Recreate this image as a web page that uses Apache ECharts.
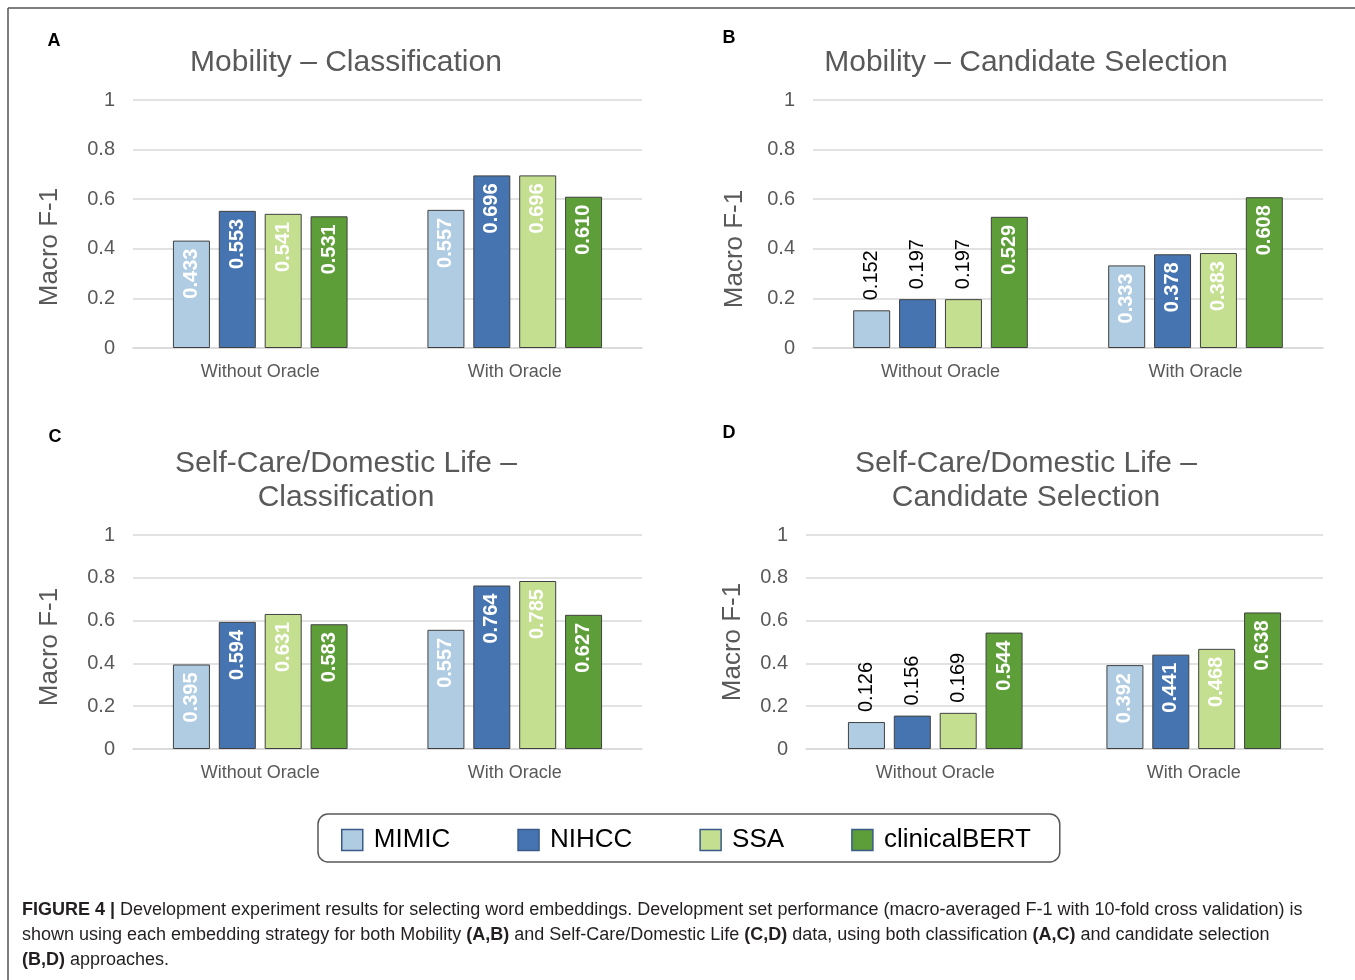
<!DOCTYPE html>
<html>
<head>
<meta charset="utf-8">
<script src="https://cdn.jsdelivr.net/npm/echarts@6/dist/echarts.min.js"></script>
<style>html,body{margin:0;padding:0;background:#fff}#c{width:1355px;height:980px}</style>
</head>
<body>
<div id="c"></div>
<script>
// ---- data ----
const categories = ['Without Oracle', 'With Oracle'];
const models = ['MIMIC', 'NIHCC', 'SSA', 'clinicalBERT'];
const panelTitles = [
  ['Mobility \u2013 Classification'],
  ['Mobility \u2013 Candidate Selection'],
  ['Self-Care/Domestic Life \u2013', 'Classification'],
  ['Self-Care/Domestic Life \u2013', 'Candidate Selection']
];
const panelLetters = ['A', 'B', 'C', 'D'];
const yAxisName = 'Macro F-1';
const yTicks = [0, 0.2, 0.4, 0.6, 0.8, 1];
// values[model] = [Without Oracle, With Oracle]
const mobilityClassification = {
  MIMIC: [0.433, 0.557], NIHCC: [0.553, 0.696], SSA: [0.541, 0.696], clinicalBERT: [0.531, 0.610]
};
const mobilityCandidate = {
  MIMIC: [0.152, 0.333], NIHCC: [0.197, 0.378], SSA: [0.197, 0.383], clinicalBERT: [0.529, 0.608]
};
const selfCareClassification = {
  MIMIC: [0.395, 0.557], NIHCC: [0.594, 0.764], SSA: [0.631, 0.785], clinicalBERT: [0.583, 0.627]
};
const selfCareCandidate = {
  MIMIC: [0.126, 0.392], NIHCC: [0.156, 0.441], SSA: [0.169, 0.468], clinicalBERT: [0.544, 0.638]
};
const panels = [mobilityClassification, mobilityCandidate, selfCareClassification, selfCareCandidate];

// ---- styling / layout ----
const FONT = '"Liberation Sans", Arial, sans-serif';
const colors = { MIMIC: '#b0cce2', NIHCC: '#4674b0', SSA: '#c4df8f', clinicalBERT: '#5e9e39' };
const grids = [
  { left: 133, width: 509, top: 100, height: 248 },
  { left: 813, width: 510, top: 100, height: 248 },
  { left: 133, width: 509, top: 535, height: 214 },
  { left: 806, width: 517, top: 535, height: 214 }
];
const namePos = [{ x: 50, y: 247 }, { x: 735, y: 249 }, { x: 50, y: 647 }, { x: 733, y: 642 }];
const titlePos = [
  { x: 346, y: 63 }, { x: 1026, y: 63 }, { x: 346, y: 464 }, { x: 1026, y: 464 }
];
const letterPos = [{ x: 54, y: 41 }, { x: 729, y: 38 }, { x: 55, y: 437 }, { x: 729, y: 433 }];

const xAxes = [], yAxes = [], series = [], graphics = [];
grids.forEach((g, i) => {
  xAxes.push({
    type: 'category', gridIndex: i, data: categories,
    axisLine: { lineStyle: { color: '#d9d9d9', width: 1.5 } },
    axisTick: { show: false },
    axisLabel: { color: '#595959', fontSize: 18, margin: 15, fontFamily: FONT }
  });
  yAxes.push({
    type: 'value', gridIndex: i, min: 0, max: 1, interval: 0.2,
    axisLine: { show: false }, axisTick: { show: false },
    splitLine: { lineStyle: { color: '#d9d9d9', width: 1.5 } },
    axisLabel: { color: '#595959', fontSize: 20, margin: 18, fontFamily: FONT,
      formatter: v => String(yTicks.find(t => Math.abs(t - v) < 1e-9) ?? v) }
  });
  models.forEach(m => {
    series.push({
      type: 'bar', name: m, xAxisIndex: i, yAxisIndex: i,
      barWidth: 37, barGap: '24%',
      itemStyle: { color: colors[m], borderColor: '#404040', borderWidth: 1 },
      data: panels[i][m].map(v => {
        const outside = v < 0.25;
        return {
          value: v,
          label: outside ? {
            show: true, position: 'top', rotate: 90, align: 'left', verticalAlign: 'middle',
            distance: 10, color: '#000', fontWeight: 'normal', fontSize: 20, fontFamily: FONT,
            formatter: p => p.value.toFixed(3)
          } : {
            show: true, position: 'insideTop', rotate: 90, align: 'right', verticalAlign: 'middle',
            distance: 8, color: '#fff', fontWeight: 'bold', fontSize: 20, fontFamily: FONT,
            formatter: p => p.value.toFixed(3)
          }
        };
      })
    });
  });
  panelTitles[i].forEach((t, k) => {
    graphics.push({ type: 'text', x: titlePos[i].x, y: titlePos[i].y + k * 34,
      style: { text: t, fill: '#595959', font: '30px ' + FONT, textAlign: 'center', textVerticalAlign: 'middle' } });
  });
  graphics.push({ type: 'text', x: namePos[i].x, y: namePos[i].y, rotation: Math.PI / 2,
    style: { text: yAxisName, fill: '#595959', font: '26px ' + FONT, textAlign: 'center', textVerticalAlign: 'middle' } });
  graphics.push({ type: 'text', x: letterPos[i].x, y: letterPos[i].y,
    style: { text: panelLetters[i], fill: '#000', font: 'bold 18px ' + FONT, textAlign: 'center', textVerticalAlign: 'middle' } });
});

// figure frame
graphics.push({ type: 'line', shape: { x1: 8, y1: 8, x2: 1355, y2: 8 }, style: { stroke: '#555', lineWidth: 1.5 } });
graphics.push({ type: 'line', shape: { x1: 8, y1: 8, x2: 8, y2: 980 }, style: { stroke: '#555', lineWidth: 1.5 } });

// caption
const captionLines = [
  '{b|FIGURE 4 |} Development experiment results for selecting word embeddings. Development set performance (macro-averaged F-1 with 10-fold cross validation) is',
  'shown using each embedding strategy for both Mobility {b|(A,B)} and Self-Care/Domestic Life {b|(C,D)} data, using both classification {b|(A,C)} and candidate selection',
  '{b|(B,D)} approaches.'
];
captionLines.forEach((t, k) => {
  graphics.push({ type: 'text', x: 22, y: 910 + k * 25,
    style: { text: t, fill: '#231f20', fontSize: 18, fontFamily: FONT, textVerticalAlign: 'middle',
      rich: { b: { fontWeight: 'bold', fontSize: 18, fontFamily: FONT, fill: '#231f20' } } } });
});

const chart = echarts.init(document.getElementById('c'));
chart.setOption({
  animation: false,
  backgroundColor: '#fff',
  grid: grids,
  xAxis: xAxes,
  yAxis: yAxes,
  series: series,
  legend: {
    data: models, left: 318, top: 814, orient: 'horizontal',
    padding: [13, 29, 9, 23], itemGap: 67, itemWidth: 21, itemHeight: 21, icon: 'rect',
    borderColor: '#595959', borderWidth: 1.5, borderRadius: 10,
    itemStyle: { borderColor: '#3a5a8c', borderWidth: 1.5 },
    textStyle: { fontSize: 26, color: '#000', fontFamily: FONT, padding: [0, 0, 0, 6] }
  },
  graphic: graphics
});
</script>
</body>
</html>
